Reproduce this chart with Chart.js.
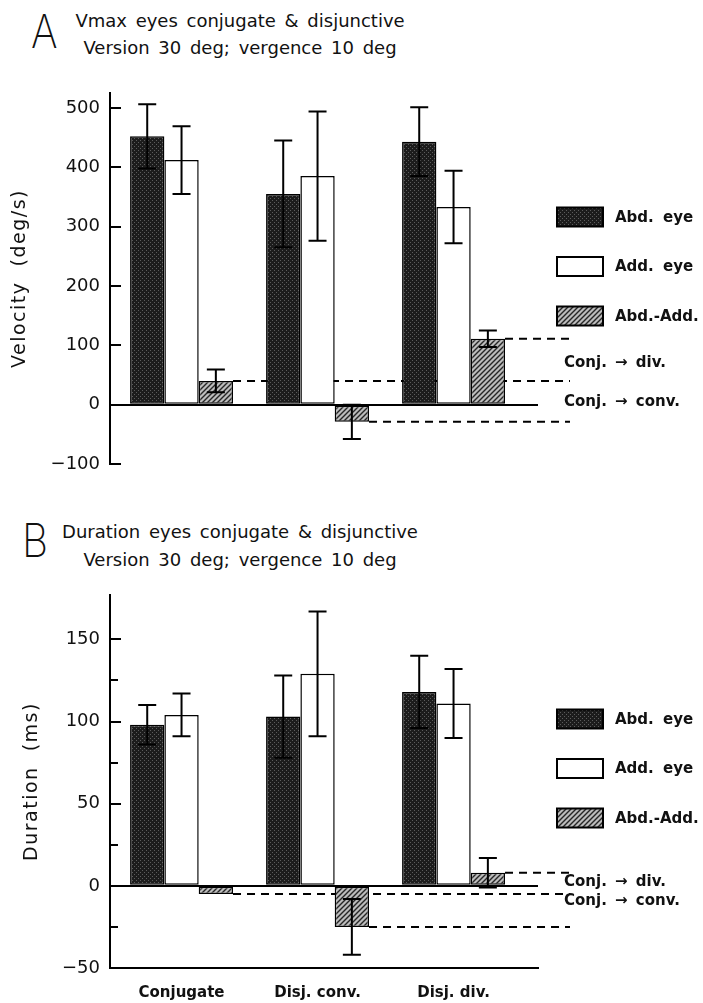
<!DOCTYPE html>
<html>
<head>
<meta charset="utf-8">
<script src="https://cdn.jsdelivr.net/npm/chart.js@4.4.1/dist/chart.umd.min.js"></script>
<style>
  html, body { margin: 0; padding: 0; background: #fff; }
  body { width: 703px; height: 1003px; position: relative; overflow: hidden; font-family: "DejaVu Sans", sans-serif; color: #111; }
  .letter { position: absolute; font-family: Inter, "DejaVu Sans", sans-serif; font-weight: 200; font-size: 46px; line-height: 1; color: #111; transform: scaleX(0.88); transform-origin: left top; }
  .head { position: absolute; left: 40px; width: 400px; text-align: center; font-size: 18px; line-height: 27px; word-spacing: 3px; white-space: nowrap; }
  canvas { position: absolute; left: 0; }
</style>
</head>
<body>
<div class="letter" style="left:31px;top:8px">A</div>
<div class="head" style="top:7px">Vmax eyes conjugate &amp; disjunctive<br>Version 30 deg; vergence 10 deg</div>
<canvas id="vel" width="703" height="500" style="top:0"></canvas>

<div class="letter" style="left:22px;top:517px">B</div>
<div class="head" style="top:518px;line-height:28px">Duration eyes conjugate &amp; disjunctive<br>Version 30 deg; vergence 10 deg</div>
<canvas id="dur" width="703" height="503" style="top:500px"></canvas>

<script>
const categories = ['Conjugate', 'Disj. conv.', 'Disj. div.'];
const seriesNames = ['Abd. eye', 'Add. eye', 'Abd.-Add.'];
const noteTexts = ['Conj. \u2192 div.', 'Conj. \u2192 conv.'];

// peak velocity, deg/s (mean and SD)
const velAbd = [452, 355, 443];
const velAbdSd = [54, 90, 58];
const velAdd = [412, 385, 333];
const velAddSd = [57, 109, 61];
const velDiff = [40, -29, 111];
const velDiffSd = [19, 29, 14];
const velTicks = [-100, 0, 100, 200, 300, 400, 500];
const velNoteAt = [70, 4];

// duration, ms (mean and SD)
const durAbd = [98, 103, 118];
const durAbdSd = [12, 25, 22];
const durAdd = [104, 129, 111];
const durAddSd = [13, 38, 21];
const durDiff = [-5, -25, 8];
const durDiffSd = [0, 17, 9];
const durTicks = [-50, -25, 0, 25, 50, 75, 100, 125, 150];
const durLabelled = [-50, 0, 50, 100, 150];
const durNoteAt = [2, -9.5];

function stipple() {
  const c = document.createElement('canvas'); c.width = c.height = 4;
  const g = c.getContext('2d');
  g.fillStyle = '#1c1c1c'; g.fillRect(0, 0, 4, 4);
  g.fillStyle = '#5c5c5c'; g.fillRect(0, 0, 1, 1); g.fillRect(2, 2, 1, 1);
  return g.createPattern(c, 'repeat');
}
function hatch() {
  const c = document.createElement('canvas'); c.width = c.height = 5;
  const g = c.getContext('2d');
  g.fillStyle = '#bcbcbc'; g.fillRect(0, 0, 5, 5);
  g.strokeStyle = '#262626'; g.lineWidth = 1.4;
  g.beginPath();
  g.moveTo(0, 5); g.lineTo(5, 0);
  g.moveTo(-1, 1); g.lineTo(1, -1);
  g.moveTo(4, 6); g.lineTo(6, 4);
  g.stroke();
  return g.createPattern(c, 'repeat');
}
const darkFill = stipple();
const hatchFill = hatch();

const points = (vals) => vals.map((v, i) => ({ x: i + 1, y: v }));
const minus = (v) => v < 0 ? '\u2212' + Math.abs(v) : String(v);

function buildChart(id, p) {
  const bar = { categoryPercentage: 0.757, barPercentage: 1, borderColor: '#000', borderWidth: 1.5, borderSkipped: false };

  // SD whiskers with caps
  const errorBars = {
    id: 'errorBars',
    afterDatasetsDraw(chart) {
      const { ctx, scales: { y } } = chart;
      ctx.save();
      ctx.strokeStyle = '#000'; ctx.lineWidth = 2;
      chart.data.datasets.forEach((ds, di) => {
        chart.getDatasetMeta(di).data.forEach((el, i) => {
          const sd = ds.sd[i];
          if (!sd) return;
          const v = ds.data[i].y;
          const hi = y.getPixelForValue(v + sd), lo = y.getPixelForValue(v - sd);
          ctx.beginPath();
          ctx.moveTo(el.x, hi); ctx.lineTo(el.x, lo);
          ctx.moveTo(el.x - 9, hi); ctx.lineTo(el.x + 9, hi);
          ctx.moveTo(el.x - 9, lo); ctx.lineTo(el.x + 9, lo);
          ctx.stroke();
        });
      });
      ctx.restore();
    }
  };

  // dashed levels of the difference bars, carried out to the right
  const refLines = {
    id: 'refLines',
    beforeDatasetsDraw(chart) {
      const { ctx, chartArea, scales: { y } } = chart;
      const meta = chart.getDatasetMeta(2);
      ctx.save();
      ctx.strokeStyle = '#000'; ctx.lineWidth = 2; ctx.setLineDash([8, 6]);
      meta.data.forEach((el, i) => {
        const py = y.getPixelForValue(p.diff[i]);
        ctx.beginPath();
        ctx.moveTo(el.x + el.width / 2, py);
        ctx.lineTo(chartArea.right + 32, py);
        ctx.stroke();
      });
      ctx.restore();
    }
  };

  // inward ticks, axis title, legend and notes
  const decor = {
    id: 'decor',
    afterDraw(chart) {
      const { ctx, chartArea: a, scales: { y } } = chart;
      ctx.save();
      ctx.strokeStyle = '#000'; ctx.fillStyle = '#111'; ctx.lineWidth = 2;
      y.ticks.forEach(t => {
        const py = Math.round(y.getPixelForValue(t.value));
        const len = t.label === '' ? 8 : 11;
        ctx.beginPath(); ctx.moveTo(a.left, py); ctx.lineTo(a.left + len, py); ctx.stroke();
      });

      ctx.save();
      ctx.translate(p.titleX, (a.top + a.bottom) / 2);
      ctx.rotate(-Math.PI / 2);
      ctx.font = '19px "DejaVu Sans"';
      ctx.letterSpacing = '1.5px';
      ctx.textAlign = 'center'; ctx.textBaseline = 'middle';
      ctx.fillText(p.yTitle, 0, 0);
      ctx.restore();

      ctx.font = 'bold 15px "DejaVu Sans"';
      ctx.wordSpacing = '4px';
      ctx.textAlign = 'left'; ctx.textBaseline = 'middle';
      chart.data.datasets.forEach((ds, i) => {
        const yc = a.top + 124 + i * 49.5;
        const x0 = a.right + 19;
        ctx.fillStyle = ds.backgroundColor;
        ctx.fillRect(x0, yc - 9.5, 46, 19);
        ctx.strokeRect(x0, yc - 9.5, 46, 19);
        ctx.fillStyle = '#111';
        ctx.fillText(ds.label, x0 + 58, yc + 1);
      });

      ctx.font = 'bold 15px "DejaVu Sans"';
      ctx.wordSpacing = '3px';
      noteTexts.forEach((txt, i) => {
        ctx.fillText(txt, a.right + 26, y.getPixelForValue(p.noteAt[i]));
      });
      ctx.restore();
    }
  };

  return new Chart(document.getElementById(id), {
    type: 'bar',
    data: {
      datasets: [
        { label: seriesNames[0], data: points(p.abd), sd: p.abdSd, backgroundColor: darkFill, ...bar },
        { label: seriesNames[1], data: points(p.add), sd: p.addSd, backgroundColor: '#ffffff', ...bar },
        { label: seriesNames[2], data: points(p.diff), sd: p.diffSd, backgroundColor: hatchFill, ...bar }
      ]
    },
    options: {
      responsive: false,
      animation: false,
      events: [],
      layout: { padding: { left: 0, right: 165, top: p.padTop, bottom: p.padBottom } },
      plugins: { legend: { display: false }, tooltip: { enabled: false } },
      scales: {
        x: {
          type: 'linear',
          display: p.showX,
          offset: false,
          min: 0.474, max: 3.621,
          afterBuildTicks: s => { s.ticks = categories.map((c, i) => ({ value: i + 1 })); },
          afterFit: s => { s.height = p.showX ? 35 : 0; },
          grid: { display: false, drawTicks: false, offset: false },
          border: { display: true, color: '#000', width: 2 },
          ticks: { color: '#111', padding: 16, font: { family: 'DejaVu Sans', size: 15, weight: 'bold' },
                   callback: v => categories[v - 1] }
        },
        y: {
          min: p.min, max: p.max,
          afterBuildTicks: s => { s.ticks = p.ticks.map(v => ({ value: v })); },
          afterFit: s => { s.width = 110; },
          grid: { drawTicks: false, lineWidth: 2, color: c => c.tick && c.tick.value === 0 ? '#000' : 'rgba(0,0,0,0)' },
          border: { display: true, color: '#000', width: 2 },
          ticks: { color: '#111', padding: 10, font: { family: 'DejaVu Sans', size: 18 },
                   callback: p.tickLabel }
        }
      }
    },
    plugins: [refLines, errorBars, decor]
  });
}

buildChart('vel', {
  abd: velAbd, abdSd: velAbdSd, add: velAdd, addSd: velAddSd, diff: velDiff, diffSd: velDiffSd,
  min: -100, max: 525, ticks: velTicks, tickLabel: v => minus(v),
  yTitle: 'Velocity  (deg/s)', titleX: 20, noteAt: velNoteAt,
  padTop: 93, padBottom: 36, showX: false
});

buildChart('dur', {
  abd: durAbd, abdSd: durAbdSd, add: durAdd, addSd: durAddSd, diff: durDiff, diffSd: durDiffSd,
  min: -50, max: 177, ticks: durTicks, tickLabel: v => durLabelled.includes(v) ? minus(v) : '',
  yTitle: 'Duration  (ms)', titleX: 32, noteAt: durNoteAt,
  padTop: 95, padBottom: 0, showX: true
});
</script>
</body>
</html>
